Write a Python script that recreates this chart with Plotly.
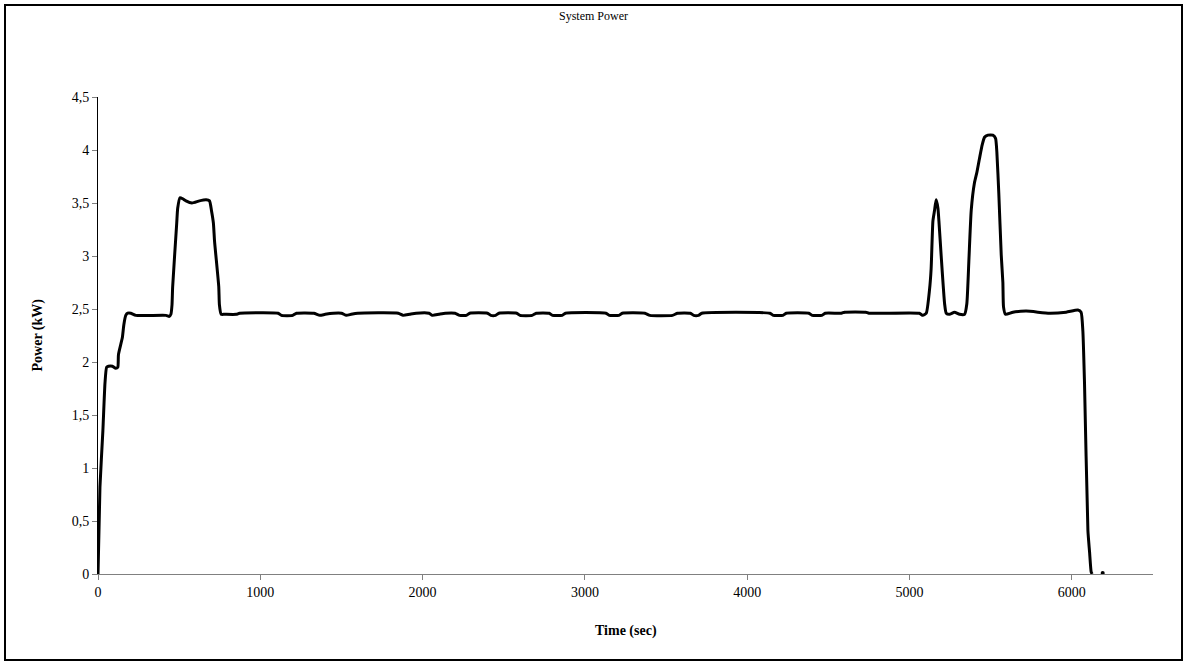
import plotly.graph_objects as go

# Time (s) and measured system power (kW)
time_s = [
    0, 12, 30, 43, 53, 64, 89, 109, 122, 126, 150, 159, 171, 183, 202, 233,
    419, 439, 449, 456, 460, 485, 491, 505, 522, 542, 579, 625, 666, 687,
    699, 711, 718, 744, 748, 759, 779,
    852, 872, 1110, 1130, 1200, 1223, 1330, 1367, 1400, 1450, 1500, 1530,
    1560, 1600, 1850, 1880, 1920, 1960, 2040, 2060, 2100, 2140, 2200, 2228,
    2270, 2290, 2400, 2420, 2450, 2470, 2580, 2600, 2675, 2700, 2780, 2800,
    2860, 2880, 3130, 3150, 3210, 3230, 3370, 3400, 3540, 3570, 3650, 3670,
    3700, 3720, 4140, 4160, 4220, 4240, 4380, 4400, 4460, 4480, 4580, 4600,
    4730, 4750, 5060, 5082, 5103,
    5123, 5133, 5144, 5154, 5164, 5175, 5181, 5195, 5216, 5226, 5246, 5277,
    5308, 5339, 5353, 5366, 5380, 5400, 5415, 5431, 5448, 5462, 5483, 5513,
    5530, 5538, 5550, 5565, 5575, 5579, 5591, 5637, 5719, 5862, 5965, 6037,
    6057, 6068, 6078, 6099, 6109, 6119, 6125,
]
power_kw = [
    0.0, 0.82, 1.35, 1.80, 1.95, 1.96, 1.96, 1.94, 1.95, 2.07, 2.23, 2.35,
    2.44, 2.46, 2.46, 2.44, 2.44, 2.43, 2.45, 2.54, 2.71, 3.31, 3.45, 3.55,
    3.54, 3.52, 3.50, 3.52, 3.53, 3.52, 3.43, 3.31, 3.14, 2.71, 2.54, 2.45,
    2.45,
    2.45, 2.46, 2.46, 2.44, 2.44, 2.46, 2.46, 2.44, 2.45, 2.46, 2.46, 2.44,
    2.45, 2.46, 2.46, 2.44, 2.45, 2.46, 2.46, 2.44, 2.45, 2.46, 2.46, 2.44,
    2.44, 2.46, 2.46, 2.44, 2.44, 2.46, 2.46, 2.44, 2.44, 2.46, 2.46, 2.44,
    2.44, 2.46, 2.46, 2.44, 2.44, 2.46, 2.46, 2.44, 2.44, 2.46, 2.46, 2.44,
    2.44, 2.46, 2.46, 2.44, 2.44, 2.46, 2.46, 2.44, 2.44, 2.46, 2.46, 2.47,
    2.47, 2.46, 2.46, 2.44, 2.46,
    2.68, 2.88, 3.33, 3.43, 3.53, 3.45, 3.33, 3.00, 2.55, 2.46, 2.45, 2.47,
    2.45, 2.45, 2.55, 2.97, 3.43, 3.69, 3.79, 3.92, 4.05, 4.12, 4.14, 4.14,
    4.11, 3.98, 3.59, 3.01, 2.75, 2.52, 2.45, 2.47, 2.48, 2.46, 2.47, 2.49,
    2.47, 2.29, 1.80, 0.41, 0.21, 0.02, 0.0,
]
# Isolated last sample after shutdown
tail_time_s = [6190]
tail_power_kw = [0.01]

y_ticks = [0, 0.5, 1, 1.5, 2, 2.5, 3, 3.5, 4, 4.5]
y_tick_text = ["0", "0,5", "1", "1,5", "2", "2,5", "3", "3,5", "4", "4,5"]
x_ticks = [0, 1000, 2000, 3000, 4000, 5000, 6000]

serif = "Liberation Serif, Times New Roman, serif"

fig = go.Figure()
fig.add_trace(go.Scatter(
    x=time_s, y=power_kw, mode="lines",
    line=dict(color="black", width=3, shape="spline", smoothing=0.5),
    showlegend=False, hoverinfo="x+y",
))
fig.add_trace(go.Scatter(
    x=tail_time_s, y=tail_power_kw, mode="markers",
    marker=dict(color="black", size=4),
    showlegend=False,
))

W, H = 1187, 662
L, R, T, B = 98, 34, 97, 88
pw, ph = W - L - R, H - T - B


def px_x(x):
    return (x - L) / pw


def px_y(y):
    return (H - B - y) / ph


fig.update_layout(
    width=W, height=H,
    margin=dict(l=L, r=R, t=T, b=B),
    paper_bgcolor="white", plot_bgcolor="white",
    font=dict(family=serif, color="black", size=13),
    title=dict(text="System Power", x=0.5, xref="container", xanchor="center",
               y=1 - 16 / H, yref="container", yanchor="middle",
               font=dict(family=serif, size=12, color="black")),
    xaxis=dict(range=[0, 6500], tickvals=x_ticks, showgrid=False, zeroline=False,
               showline=True, linecolor="#808080", linewidth=1,
               ticks="outside", ticklen=5, tickcolor="#808080",
               tickfont=dict(family=serif, size=14)),
    yaxis=dict(range=[0, 4.5], tickvals=y_ticks, ticktext=y_tick_text,
               showgrid=False, zeroline=False,
               showline=True, linecolor="black", linewidth=1,
               ticks="outside", ticklen=5, tickcolor="#808080",
               tickfont=dict(family=serif, size=14)),
    annotations=[
        dict(text="<b>Time (sec)</b>", x=0.5, y=px_y(631), xref="paper", yref="paper",
             xanchor="center", yanchor="middle", showarrow=False,
             font=dict(family=serif, size=14)),
        dict(text="<b>Power (kW)</b>", x=px_x(37), y=0.5, xref="paper", yref="paper",
             xanchor="center", yanchor="middle", showarrow=False, textangle=-90,
             font=dict(family=serif, size=14)),
    ],
    shapes=[
        dict(type="rect", xref="paper", yref="paper",
             x0=px_x(5), x1=px_x(1182), y0=px_y(5), y1=px_y(660),
             line=dict(color="black", width=2), fillcolor="rgba(0,0,0,0)",
             layer="below"),
    ],
)

fig.write_html("out.html")
